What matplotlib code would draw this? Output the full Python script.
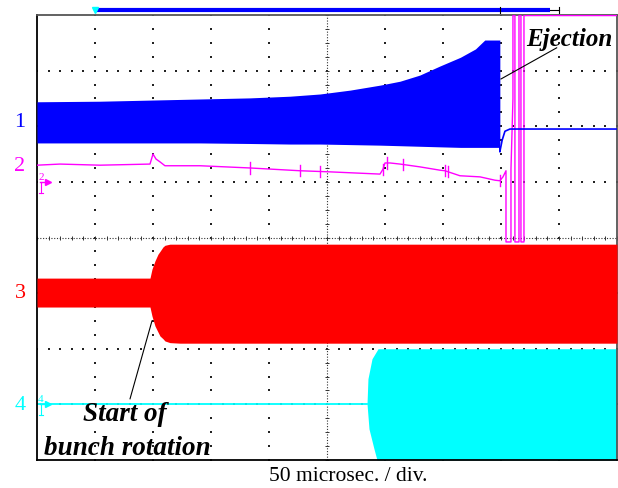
import numpy as np
import matplotlib
matplotlib.use("Agg")
import matplotlib.pyplot as plt

# Farver (oscilloskop-kanaler)
BLUE = "#0000FF"
MAGENTA = "#FF00FF"
RED = "#FF0000"
CYAN = "#00FFFF"

# Kanal 1 (blaa) - indhyllingskurve, tid i mikrosek., amplitude i div.
ch1_t = [0, 54.3, 97.4, 140.5, 183.6, 218, 244, 270, 296, 313, 330, 347, 365, 378, 386, 399]
ch1_top = [2.44, 2.45, 2.47, 2.49, 2.51, 2.54, 2.58, 2.65, 2.74, 2.81, 2.92, 3.08, 3.24, 3.39, 3.55, 3.55]
ch1_bot = [1.70, 1.70, 1.70, 1.70, 1.69, 1.68, 1.68, 1.67, 1.66, 1.65, 1.64, 1.63, 1.62, 1.62, 1.62, 1.62]
ch1_after_t = [399, 399, 401, 403.4, 407.7, 500]
ch1_after_v = [1.62, 1.54, 1.75, 1.91, 1.95, 1.95]

# Kanal 2 (magenta)
ch2_t = [0, 19.8, 54.3, 97.4, 100, 102.6, 106, 110.3, 140.5, 183.6, 226.7, 252.6, 295.7,
         298.3, 300, 304.3, 313, 330, 347.4, 351.7, 364.6, 381.9, 394.8, 399,
         401.7, 404.3, 404.3, 408.6, 408.6, 410.3, 410.3, 412, 412, 415.5, 415.5,
         417.2, 417.2, 419.8, 419.8, 500]
ch2_v = [1.30, 1.32, 1.30, 1.32, 1.50, 1.41, 1.36, 1.29, 1.29, 1.25, 1.20, 1.18, 1.14,
         1.23, 1.34, 1.34, 1.32, 1.27, 1.21, 1.20, 1.11, 1.09, 1.03, 1.02,
         1.09, 1.20, -0.08, -0.08, 1.23, 2.49, 3.99, 3.99, -0.08, -0.08, 3.99,
         3.99, -0.08, -0.08, 3.99, 3.99]
ch2_spikes = [183.6, 226.7, 244.3, 298.3, 301.7, 315.5, 351.7, 354.3, 399]

# Kanal 3 (roed)
ch3_t = [0, 97.4, 99.1, 101.7, 104.3, 106.0, 108.6, 110.3, 114.6, 123.3, 500]
ch3_top = [-0.73, -0.73, -0.57, -0.42, -0.30, -0.25, -0.17, -0.14, -0.12, -0.12, -0.12]
ch3_bot = [-1.25, -1.25, -1.41, -1.59, -1.70, -1.77, -1.82, -1.86, -1.89, -1.90, -1.90]

# Kanal 4 (cyan)
ch4_level = -2.99
ch4_start = 284.5
ch4_edge_v = [-2.00, -2.18, -2.54, -2.99, -3.44, -3.80, -4.0]
ch4_edge_t = [294, 288.8, 285.3, 284.5, 286.2, 290.5, 293.1]

ch_labels = ["1", "2", "3", "4"]
ch_label_v = [2.09, 1.30, -0.98, -3.01]
ch_colors = [BLUE, MAGENTA, RED, CYAN]

fig = plt.figure(figsize=(6.18, 4.89), dpi=100)
ax = fig.add_axes([37 / 618, 28 / 489, 580 / 618, 445 / 489])
ax.set_xlim(0, 500)
ax.set_ylim(-4, 4)
ax.set_xticks([])
ax.set_yticks([])
for s in ax.spines.values():
    s.set_color("black")
    s.set_linewidth(1.3)
ax.spines["top"].set_color("#555555")
ax.spines["right"].set_color("#555555")

# Gitter af prikker
dot = dict(color="#222222", marker="s", ms=1.5, mew=0, ls="none", zorder=1)
for gx in range(50, 500, 50):
    if gx == 250:
        continue
    ys = np.arange(-4, 4.01, 0.25)
    ax.plot(np.full_like(ys, gx), ys, **dot)
for gy in [-3, -2, -1, 1, 2, 3]:
    xs = np.arange(0, 500.1, 10)
    ax.plot(xs, np.full_like(xs, gy), **dot)
ax.axvline(250, color="#333333", ls=(0, (1, 1.5)), lw=0.8, zorder=1)
ax.axhline(0, color="#333333", ls=(0, (1, 1.5)), lw=0.8, zorder=1)
xs = np.arange(0, 500.1, 10)
ax.plot(xs, np.zeros_like(xs), marker="|", ms=3.5, ls="none", color="#333333", mew=0.7, zorder=1)
ys = np.arange(-4, 4.01, 0.25)
ax.plot(np.full_like(ys, 250), ys, marker="_", ms=3.5, ls="none", color="#333333", mew=0.7, zorder=1)

# Kanal 4
ax.plot([0, ch4_start], [ch4_level, ch4_level], color=CYAN, lw=1.3, zorder=2)
ax.fill_betweenx(ch4_edge_v, ch4_edge_t, 500, color=CYAN, lw=0, zorder=2)

# Kanal 3
ax.fill_between(ch3_t, ch3_bot, ch3_top, color=RED, lw=0, zorder=3)

# Kanal 2
ax.plot(ch2_t, ch2_v, color=MAGENTA, lw=1.0, zorder=4)
for st in ch2_spikes:
    v = np.interp(st, ch2_t[:24], ch2_v[:24])
    ax.plot([st, st], [v - 0.1, v + 0.1], color=MAGENTA, lw=1.0, zorder=4)

# Kanal 1
ax.fill_between(ch1_t, ch1_bot, ch1_top, color=BLUE, lw=0, zorder=5)
ax.plot(ch1_after_t, ch1_after_v, color=BLUE, lw=1.2, zorder=5)

# Kanal-etiketter
for lab, v, c in zip(ch_labels, ch_label_v, ch_colors):
    ax.text(-14.7, v, lab, color=c, fontsize=16, family="Liberation Serif",
            ha="center", va="center", clip_on=False)

# Jord-markoerer for kanal 2 og 4
for lab, v, c in [("2", 1.0, MAGENTA), ("4", -2.99, CYAN)]:
    ax.plot(9.5, v, marker=">", color=c, ms=5, clip_on=False, zorder=6)
    ax.plot([2.5, 9.5], [v, v], color=c, lw=1.0, zorder=6)
    ax.text(3.5, v + 0.02, lab, color=c, fontsize=8, family="Liberation Serif",
            ha="center", va="bottom", zorder=6)
    ax.plot([3.5, 3.5], [v, v - 0.2], color=c, lw=0.8, zorder=6)
    ax.plot([1.5, 5.5], [v - 0.2, v - 0.2], color=c, lw=0.8, zorder=6)

# Tidsbase-bjaelke over skaermen
ax.plot([50, 442], [4.09, 4.09], color=BLUE, lw=3, clip_on=False, solid_capstyle="butt")
ax.plot([442, 450], [4.09, 4.09], color="black", lw=0.8, clip_on=False)
ax.plot([450, 450], [4.04, 4.14], color="black", lw=0.8, clip_on=False)
ax.plot([399, 399], [4.04, 4.14], color="black", lw=0.8, clip_on=False)
ax.plot(50, 4.09, marker="v", color=CYAN, ms=5, clip_on=False)

# Annotationer
txt = dict(family="Liberation Serif", weight="bold", style="italic", color="black")
ax.text(458.6, 3.57, "Ejection", ha="center", va="center", fontsize=18, zorder=7, **txt)
ax.plot([448, 400], [3.41, 2.85], color="black", lw=0.8, zorder=7)
ax.text(75.9, -3.17, "Start of", ha="center", va="center", fontsize=19.5, zorder=7, **txt)
ax.text(77.6, -3.77, "bunch rotation", ha="center", va="center", fontsize=19.5, zorder=7, **txt)
ax.plot([80.2, 99.1], [-2.90, -1.50], color="black", lw=0.8, zorder=7)

fig.text(348 / 618, 1 - 477 / 489, "50 microsec. / div.", fontsize=15.5,
         family="Liberation Serif", ha="center", va="center")

fig.savefig("out.png", dpi=100)
